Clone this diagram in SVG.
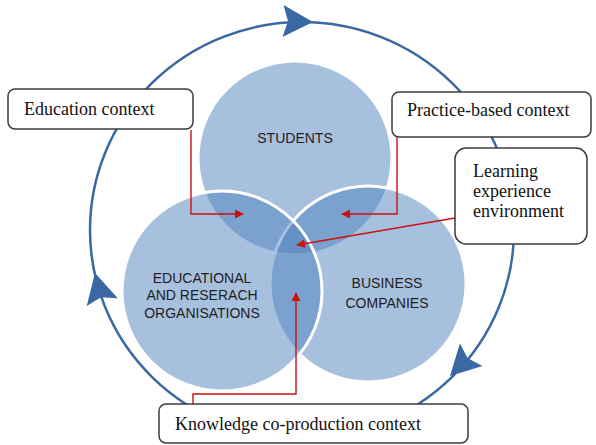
<svg xmlns="http://www.w3.org/2000/svg" width="596" height="445" viewBox="0 0 596 445">
  <style>
    .cycle { fill: none; stroke: #3A68A2; stroke-width: 2.5; }
    .cycle-head { fill: #3A68A2; }
    .set { fill: #4F81BD; fill-opacity: 0.5; stroke: #FFFFFF; stroke-width: 3; }
    .set-label { font-family: "Liberation Sans", Arial, sans-serif; font-size: 14px; fill: #1E1E1E; text-anchor: middle; }
    .box { fill: #FFFFFF; stroke: #3C3C3C; stroke-width: 1.5; }
    .box-label { font-family: "Liberation Serif", "Times New Roman", serif; font-size: 18px; fill: #111111; }
    .link { fill: none; stroke: #CC1010; stroke-width: 1.4; }
  </style>
  <defs>
    <marker id="redArrow" viewBox="0 0 10 10" refX="9" refY="5" markerWidth="9" markerHeight="9" markerUnits="userSpaceOnUse" orient="auto">
      <path d="M0,0 L10,5 L0,10 Z" fill="#CC1010"/>
    </marker>
    <path id="cycleHead" d="M0,0 L-30,-16 L-25,0 L-30,16 Z"/>
  </defs>

  <!-- clockwise cycle ring -->
  <g id="cycle">
    <ellipse class="cycle" cx="302" cy="230" rx="212" ry="208"/>
    <use href="#cycleHead" class="cycle-head" transform="translate(313,22) rotate(2)"/>
    <use href="#cycleHead" class="cycle-head" transform="translate(95,273) rotate(-104)"/>
    <use href="#cycleHead" class="cycle-head" transform="translate(450,376) rotate(135)"/>
  </g>

  <!-- three overlapping sets -->
  <g id="students">
    <circle class="set" cx="295" cy="158" r="97"/>
    <text class="set-label" x="295" y="143">STUDENTS</text>
  </g>
  <g id="business">
    <circle class="set" cx="368" cy="284" r="98"/>
    <text class="set-label" x="387" y="288">BUSINESS</text>
    <text class="set-label" x="387" y="308">COMPANIES</text>
  </g>
  <g id="education">
    <circle class="set" cx="222" cy="291" r="100"/>
    <text class="set-label" x="202" y="283">EDUCATIONAL</text>
    <text class="set-label" x="202" y="300">AND RESERACH</text>
    <text class="set-label" x="202" y="318">ORGANISATIONS</text>
  </g>

  <!-- red pointers from callouts to overlaps -->
  <g id="connectors">
    <path class="link" d="M191,130 V214 H243" marker-end="url(#redArrow)"/>
    <path class="link" d="M397,137 V214 H342" marker-end="url(#redArrow)"/>
    <path class="link" d="M455,218 L297,245" marker-end="url(#redArrow)"/>
    <path class="link" d="M193,405 V394 H296 V293" marker-end="url(#redArrow)"/>
  </g>

  <!-- callouts -->
  <g id="education-context">
    <rect class="box" x="8" y="89" width="185" height="40" rx="7"/>
    <text class="box-label" x="24" y="115">Education context</text>
  </g>
  <g id="practice-context">
    <rect class="box" x="392" y="92" width="199" height="45" rx="7"/>
    <text class="box-label" x="407" y="116">Practice-based context</text>
  </g>
  <g id="learning-environment">
    <rect class="box" x="455" y="148" width="132" height="96" rx="11"/>
    <text class="box-label" x="473" y="177">Learning</text>
    <text class="box-label" x="473" y="197">experience</text>
    <text class="box-label" x="473" y="217">environment</text>
  </g>
  <g id="knowledge-context">
    <rect class="box" x="159" y="404" width="309" height="39" rx="7"/>
    <text class="box-label" x="175" y="430">Knowledge co-production context</text>
  </g>
</svg>
